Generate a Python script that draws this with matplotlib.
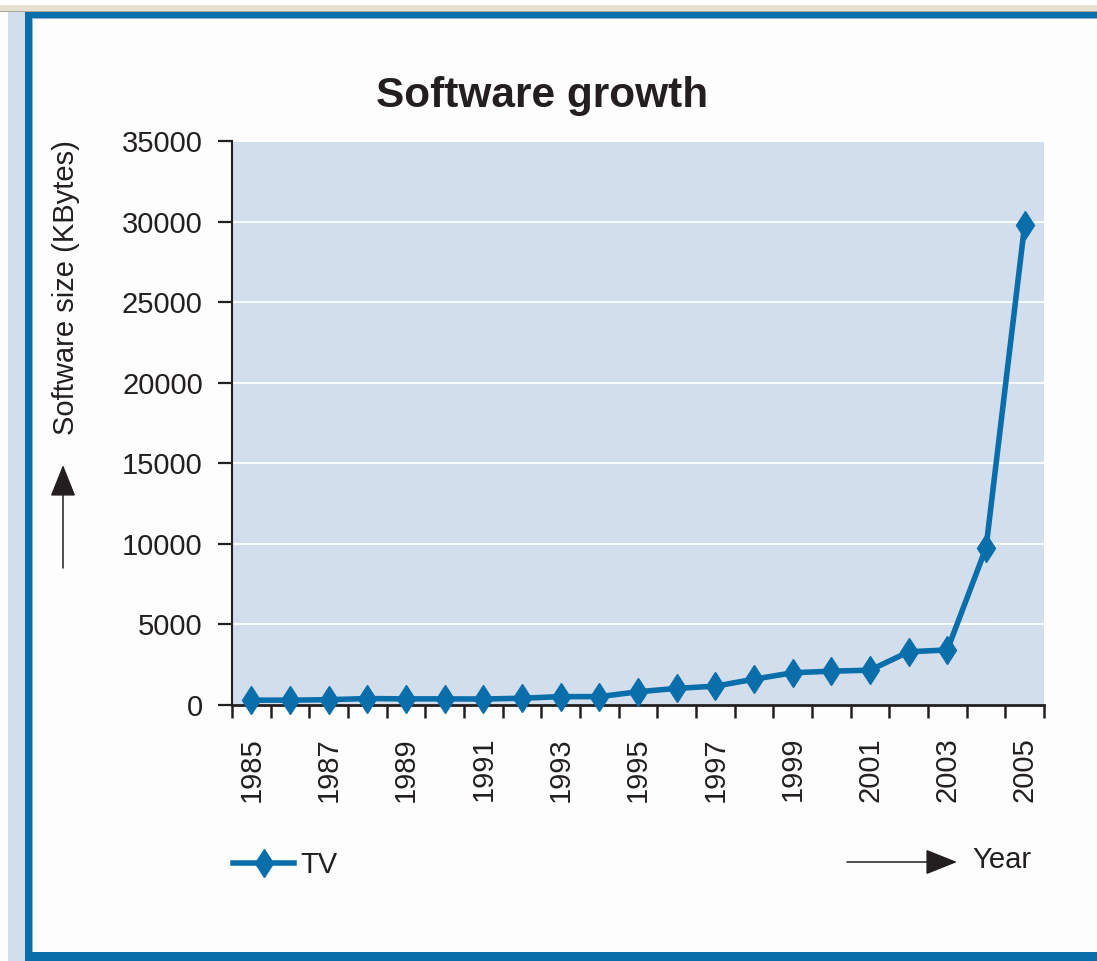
import numpy as np
import matplotlib.pyplot as plt
from matplotlib.patches import Rectangle, FancyArrowPatch

# software size per year (KBytes)
years = list(range(1985, 2006))
size_kb = [300, 300, 330, 400, 380, 380, 370, 420, 520, 520, 820,
           1030, 1170, 1600, 2000, 2100, 2160, 3300, 3420, 9750, 29800]
label_years = years[::2]
y_ticks = list(range(0, 35001, 5000))

W, H = 1097, 961
blue = '#0a6eab'
ink = '#231f20'

plt.rcParams['font.family'] = ['Liberation Sans', 'DejaVu Sans']

fig = plt.figure(figsize=(W / 100, H / 100), dpi=100, facecolor='#fdfdfd')


def px_box(x0, y0, x1, y1, color):
    # rectangle given in pixel coords, origin top-left
    fig.add_artist(Rectangle((x0 / W, 1 - y1 / H), (x1 - x0) / W, (y1 - y0) / H,
                             transform=fig.transFigure, facecolor=color,
                             edgecolor='none', zorder=0))


def px(x, y):
    return (x / W, 1 - y / H)


# window frame around the chart
px_box(0, 5, W, 11, '#e4e1d0')
px_box(0, 11, W, 12, '#a9a698')
px_box(8, 12, 25, H, '#d2deeb')
px_box(25, 12, W, 18, blue)
px_box(32, 18, W, 19, '#8db6d6')
px_box(25, 12, 32, H, blue)
px_box(32, 18, 33, 952, '#8db6d6')
px_box(25, 952, W, H, blue)

ax = fig.add_axes([232 / W, 1 - 705 / H, (1044 - 232) / W, (705 - 141) / H])
ax.set_facecolor('#d3deec')

x = np.arange(len(years))
line, = ax.plot(x, size_kb, color=blue, lw=4, marker='d', ms=14.5,
                label='TV', clip_on=False, zorder=3)

ax.set_xlim(-0.5, len(years) - 0.5)
ax.set_ylim(0, 35000)
ax.set_yticks(y_ticks)
ax.set_yticklabels([str(v) for v in y_ticks])
ax.yaxis.grid(True, color='white', lw=1.3)
ax.set_axisbelow(True)

ax.set_xticks([years.index(y) for y in label_years])
ax.set_xticklabels([str(y) for y in label_years])
ax.set_xticks(np.arange(-0.5, len(years)), minor=True)

ax.tick_params(axis='x', which='major', length=0, pad=23, labelsize=21,
               labelrotation=90, labelcolor=ink)
ax.tick_params(axis='x', which='minor', length=9.5, width=1.8, color=ink)
ax.tick_params(axis='y', length=10, width=1.6, pad=11, labelsize=21,
               color=ink, labelcolor=ink)

for side in ['top', 'right']:
    ax.spines[side].set_visible(False)
ax.spines['left'].set_linewidth(1.5)
ax.spines['left'].set_color(ink)
ax.spines['bottom'].set_linewidth(2)
ax.spines['bottom'].set_color(ink)

fig.text(542 / W, 1 - 107 / H, 'Software growth', ha='center', va='baseline',
         fontsize=30.5, fontweight='bold', color=ink)

fig.text(66 / W, 1 - 288 / H, 'Software size (KBytes)', rotation=90,
         ha='center', va='center', fontsize=21, color=ink)
fig.text(972 / W, 1 - 868 / H, 'Year', ha='left', va='baseline',
         fontsize=21, color=ink)

arrow_style = '-|>,head_length=1.0,head_width=0.4'
fig.add_artist(FancyArrowPatch(px(63, 568), px(63, 465), transform=fig.transFigure,
                               arrowstyle=arrow_style, mutation_scale=20, lw=1.1,
                               color=ink, shrinkA=0, shrinkB=0))
fig.add_artist(FancyArrowPatch(px(847, 862), px(957, 862), transform=fig.transFigure,
                               arrowstyle=arrow_style, mutation_scale=20, lw=1.1,
                               color=ink, shrinkA=0, shrinkB=0))

fig.legend(handles=[line], loc='center left', bbox_to_anchor=px(233, 865),
           frameon=False, fontsize=21, handlelength=2.1, handletextpad=0.2,
           borderpad=0, borderaxespad=0, labelcolor=ink)

fig.savefig('out.png', dpi=100, facecolor=fig.get_facecolor())
